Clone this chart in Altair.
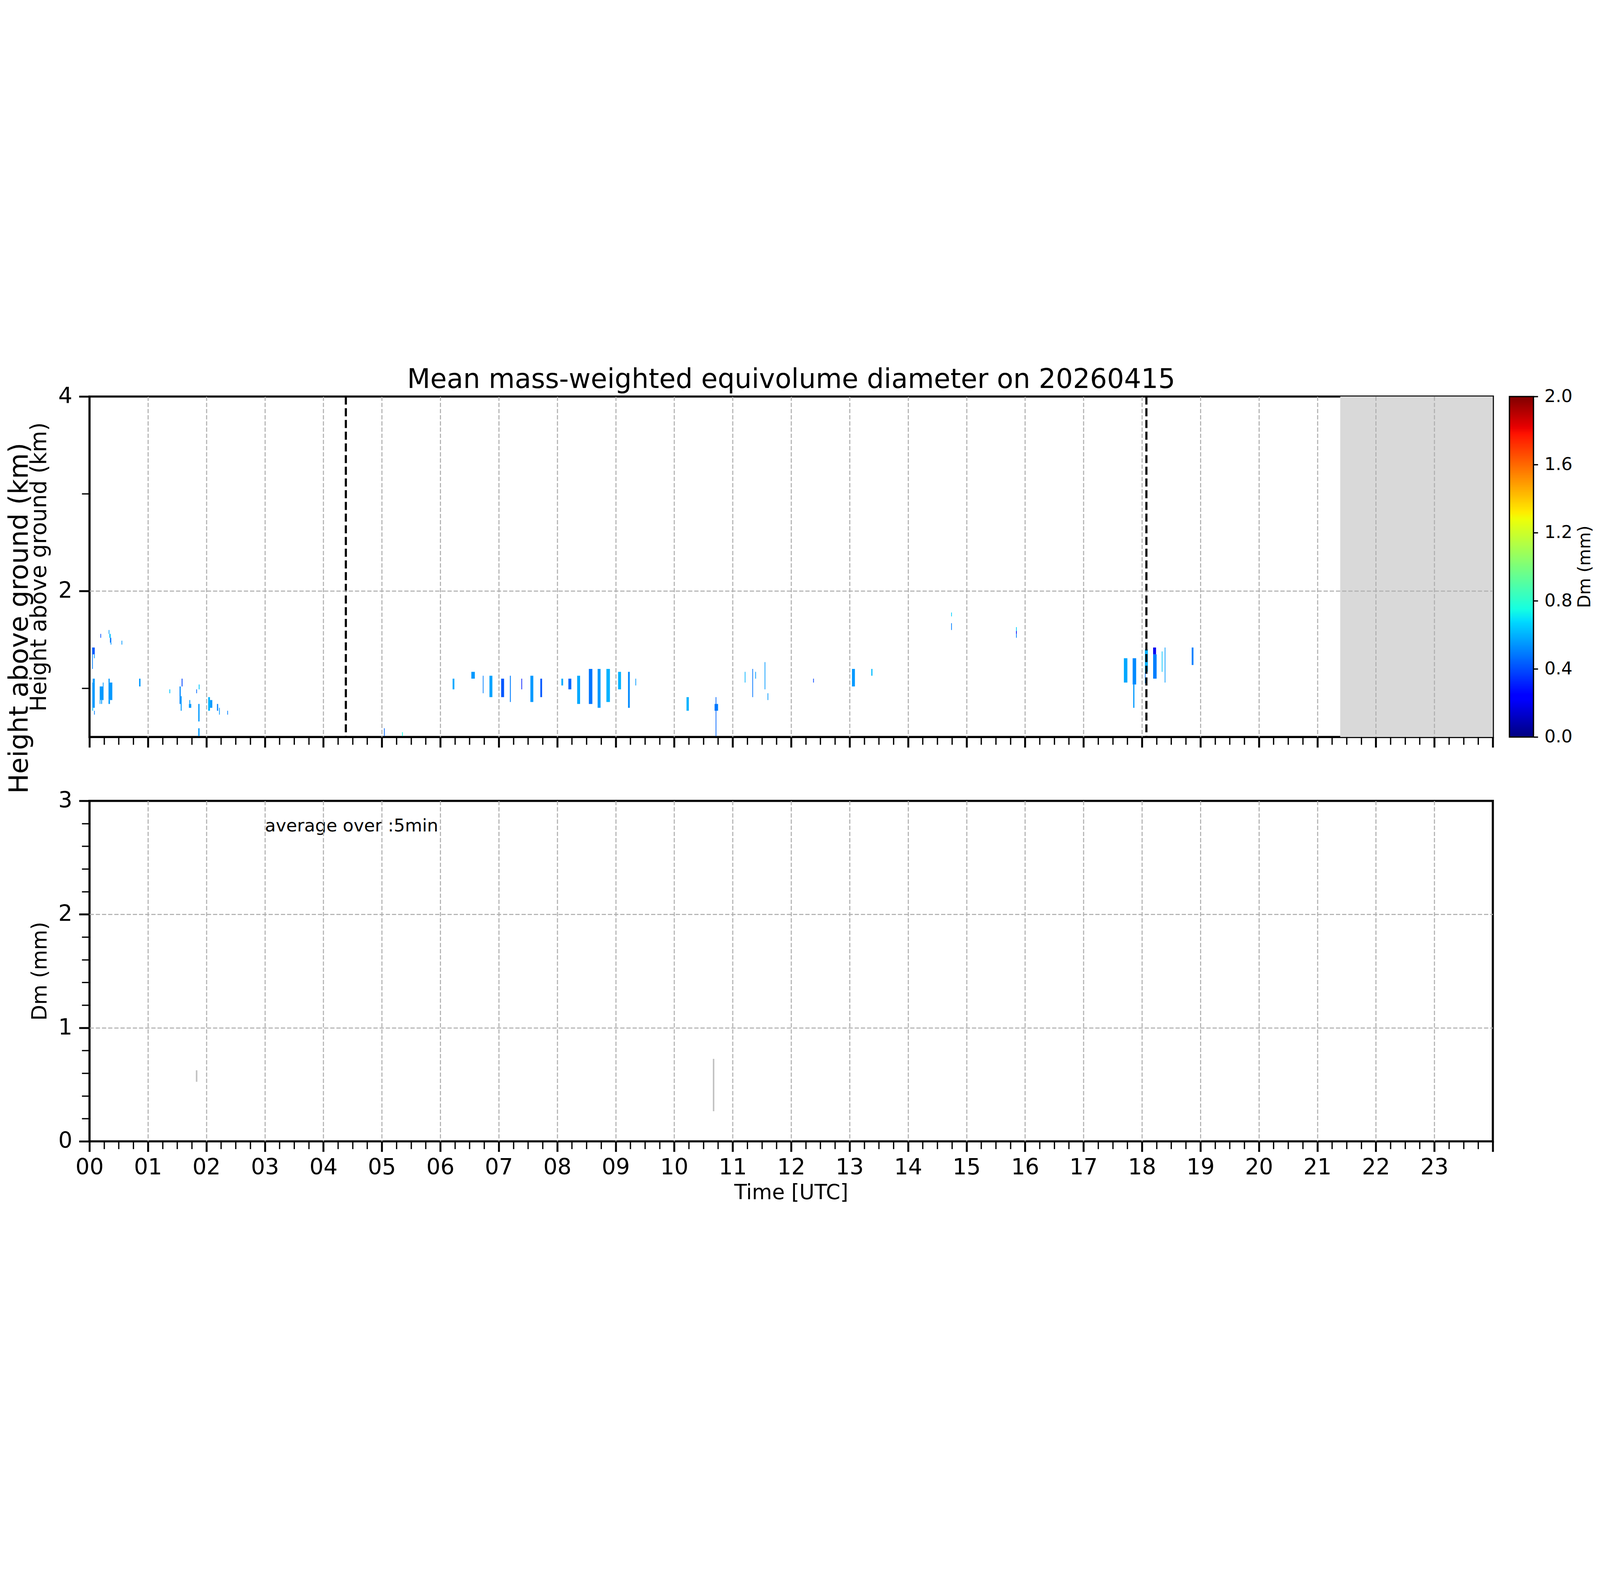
import altair as alt
import pandas as pd

FONT = "DejaVu Sans"

# ---------------- top panel: Dm cells (time in hours UTC, height in km, Dm in mm)
cell_t0 = [0.045, 0.050, 0.078, 0.048, 0.055, 0.048, 0.078, 0.175, 0.175, 0.200,
           0.228, 0.186, 0.325, 0.325, 0.325, 0.328, 0.340, 0.350, 0.362, 0.548,
           0.848, 1.366, 1.540, 1.560, 1.576, 1.700, 1.708, 1.826, 1.860, 1.868,
           1.860, 2.030, 2.060, 2.180, 2.216, 2.356, 5.036, 5.346, 6.21, 6.53,
           6.726, 6.84, 7.04, 7.19, 7.386, 7.54, 7.71, 8.07, 8.19, 8.34,
           8.54, 8.69, 8.84, 9.04, 9.21, 9.336, 10.21, 10.69, 10.708, 11.206,
           11.336, 11.386, 11.546, 11.596, 12.376, 13.04, 13.37, 14.736, 14.736, 15.846,
           15.846, 15.846, 17.69, 17.84, 17.85, 18.05, 18.05, 18.19, 18.19, 18.338,
           18.388, 18.85]
cell_t1 = [0.057, 0.090, 0.090, 0.090, 0.090, 0.062, 0.090, 0.240, 0.187, 0.215,
           0.240, 0.198, 0.390, 0.345, 0.350, 0.340, 0.362, 0.372, 0.374, 0.560,
           0.872, 1.380, 1.560, 1.576, 1.590, 1.740, 1.722, 1.838, 1.882, 1.882,
           1.882, 2.060, 2.100, 2.200, 2.228, 2.368, 5.048, 5.358, 6.24, 6.59,
           6.738, 6.89, 7.09, 7.205, 7.398, 7.59, 7.74, 8.10, 8.24, 8.39,
           8.60, 8.74, 8.90, 9.09, 9.24, 9.348, 10.25, 10.75, 10.720, 11.218,
           11.348, 11.398, 11.558, 11.608, 12.388, 13.09, 13.39, 14.748, 14.748, 15.858,
           15.858, 15.858, 17.75, 17.90, 17.87, 18.10, 18.062, 18.25, 18.24, 18.350,
           18.400, 18.88]
cell_h0 = [1.20, 1.35, 1.31, 0.80, 1.06, 0.77, 0.73, 0.88, 0.84, 0.84,
           1.02, 1.52, 0.88, 1.06, 0.84, 1.56, 1.52, 1.47, 1.45, 1.45,
           1.02, 0.95, 0.84, 0.77, 1.02, 0.80, 0.84, 0.95, 0.66, 0.99,
           0.51, 0.77, 0.80, 0.77, 0.73, 0.73, 0.51, 0.51, 0.99, 1.10,
           0.95, 0.91, 0.91, 0.86, 0.99, 0.86, 0.91, 1.03, 0.99, 0.84,
           0.84, 0.80, 0.86, 0.99, 0.80, 1.03, 0.77, 0.77, 0.51, 1.06,
           0.91, 1.10, 0.99, 0.88, 1.06, 1.02, 1.13, 1.74, 1.60, 1.59,
           1.56, 1.52, 1.06, 1.04, 0.80, 1.17, 1.05, 1.10, 1.35, 1.17,
           1.06, 1.24]
cell_h1 = [1.42, 1.42, 1.35, 1.06, 1.10, 0.80, 0.77, 1.02, 0.88, 0.88,
           1.06, 1.56, 1.06, 1.10, 0.88, 1.60, 1.56, 1.52, 1.47, 1.49,
           1.10, 0.99, 1.02, 0.92, 1.10, 0.84, 0.88, 0.99, 0.84, 1.04,
           0.59, 0.91, 0.88, 0.84, 0.80, 0.77, 0.59, 0.55, 1.10, 1.17,
           1.13, 1.13, 1.10, 1.13, 1.10, 1.13, 1.10, 1.10, 1.10, 1.13,
           1.20, 1.20, 1.20, 1.17, 1.17, 1.10, 0.91, 0.84, 0.91, 1.17,
           1.20, 1.17, 1.27, 0.95, 1.10, 1.20, 1.20, 1.78, 1.67, 1.63,
           1.59, 1.56, 1.31, 1.31, 1.04, 1.40, 1.17, 1.35, 1.42, 1.38,
           1.42, 1.42]
cell_dm = [0.50, 0.42, 0.55, 0.55, 0.55, 0.63, 0.50, 0.55, 0.55, 0.55,
           0.55, 0.40, 0.55, 0.55, 0.55, 0.55, 0.63, 0.48, 0.55, 0.55,
           0.55, 0.64, 0.52, 0.55, 0.38, 0.55, 0.55, 0.45, 0.55, 0.64,
           0.55, 0.60, 0.55, 0.50, 0.55, 0.50, 0.45, 0.74, 0.58, 0.55,
           0.50, 0.57, 0.42, 0.50, 0.30, 0.55, 0.42, 0.58, 0.45, 0.58,
           0.48, 0.55, 0.60, 0.60, 0.52, 0.55, 0.60, 0.50, 0.45, 0.60,
           0.48, 0.55, 0.55, 0.55, 0.38, 0.55, 0.62, 0.66, 0.50, 0.66,
           0.20, 0.50, 0.58, 0.52, 0.55, 0.60, 0.50, 0.50, 0.20, 0.64,
           0.55, 0.50]

# shaded (no data) period and the dashed marker times
shade_t0 = [21.39]
shade_t1 = [24.0]
shade_h0 = [0.5]
shade_h1 = [4.0]
marker_t = [4.384, 18.075]

# ---------------- bottom panel: 5-min averaged Dm (min/max of each visible stroke)
ts_t = [1.832, 10.673]
ts_lo = [0.525, 0.266]
ts_hi = [0.626, 0.727]
note_t = [3.0]
note_dm = [2.73]
note_text = ["average over :5min"]

# ---------------- texts
title_text = "Mean mass-weighted equivolume diameter on 20260415"
big_text = ["Height above ground (km)"]
cb_title_text = ["Dm (mm)"]

# ---------------- jet colour map, Dm 0..2 mm
jet_domain = [0.0, 0.22, 0.25, 0.68, 0.75, 1.28, 1.32, 1.78, 1.82, 2.0]
jet_range = ["#00007f", "#0000ff", "#0000ff", "#00dbff", "#15ffe2",
             "#eeff08", "#ffec00", "#ff1300", "#e80000", "#7f0000"]
cbar_ticks = [0.0, 0.4, 0.8, 1.2, 1.6, 2.0]
cbar_lo = [i * 0.01 for i in range(200)]
cbar_hi = [min(v + 0.012, 2.0) for v in cbar_lo]
cbar_mid = [v + 0.005 for v in cbar_lo]

# ---------------- layout constants (pixels)
W, H = 6596, 1600
CB_X0, CB_X1 = W + 78, W + 191

time_ticks = [i / 4 for i in range(97)]
height_ticks = [1, 2, 3, 4]
dm_ticks = [round(i * 0.2, 1) for i in range(16)]

MAJ_T = "abs(datum.value - round(datum.value)) < 1e-6"
GRID_T = MAJ_T + " && datum.value > 0.5 && datum.value < 23.5"
MAJ_H = "datum.value % 2 === 0"
GRID_H = "datum.value === 2"
GRID_D = MAJ_T + " && datum.value > 0.5 && datum.value < 2.5"

x_scale = alt.Scale(domain=[0, 24], nice=False, zero=False)
h_scale = alt.Scale(domain=[0.5, 4.0], nice=False, zero=False)
dm_scale = alt.Scale(domain=[0, 3], nice=False, zero=False)
cb_scale = alt.Scale(domain=[0, 2], nice=False, zero=False)
color_scale = alt.Scale(type="linear", domain=jet_domain, range=jet_range,
                        interpolate="rgb", clamp=True)

GRID = dict(grid=True, gridColor="#b0b0b0", gridDash=[20, 9], gridWidth=5)


def cond(test, a, b):
    return {"condition": {"test": test, "value": a}, "value": b}


def time_axis(labels):
    kw = dict(values=time_ticks, domain=False, zindex=1, tickColor="black",
              tickSize=cond(MAJ_T, 49, 36), tickWidth=cond(MAJ_T, 9, 6),
              gridOpacity=cond(GRID_T, 1, 0),
              labelFlush=False, labelOverlap=False, **GRID)
    if labels:
        kw.update(labels=True,
                  labelExpr="datum.value % 1 === 0 && datum.value < 24 ? "
                            "(datum.value < 10 ? '0' + datum.value : '' + datum.value) : ''",
                  labelFont=FONT, labelFontSize=104, labelPadding=24, labelColor="black",
                  title="Time [UTC]", titleFont=FONT, titleFontSize=97,
                  titleFontWeight="normal", titlePadding=18, titleColor="black")
    else:
        kw.update(labels=False, title="")
    return alt.Axis(**kw)


height_axis = alt.Axis(
    values=height_ticks, domain=False, zindex=1, tickColor="black",
    tickSize=cond(MAJ_H, 49, 36), tickWidth=cond(MAJ_H, 9, 6),
    gridOpacity=cond(GRID_H, 1, 0),
    labelExpr="datum.value % 2 === 0 ? '' + datum.value : ''",
    labelFont=FONT, labelFontSize=104, labelPadding=32, labelColor="black",
    labelFlush=False, labelOverlap=False,
    title="Height above ground (km)", titleFont=FONT, titleFontSize=103,
    titleFontWeight="normal", titlePadding=35, titleColor="black", **GRID)

dm_axis = alt.Axis(
    values=dm_ticks, domain=False, zindex=1, tickColor="black",
    tickSize=cond(MAJ_T, 49, 36), tickWidth=cond(MAJ_T, 9, 6),
    gridOpacity=cond(GRID_D, 1, 0),
    labelExpr="abs(datum.value - round(datum.value)) < 1e-6 ? '' + round(datum.value) : ''",
    labelFont=FONT, labelFontSize=104, labelPadding=32, labelColor="black",
    labelFlush=False, labelOverlap=False,
    title="Dm (mm)", titleFont=FONT, titleFontSize=97,
    titleFontWeight="normal", titlePadding=35, titleColor="black", **GRID)

cb_axis = alt.Axis(
    orient="right", offset=CB_X1 - W, values=cbar_ticks, format=".1f",
    domain=False, grid=False, tickColor="black", tickSize=21, tickWidth=6,
    labelFont=FONT, labelFontSize=83, labelPadding=30, labelColor="black",
    labelFlush=False, labelOverlap=False, title="")

# ---------------- data frames
cells = pd.DataFrame({"t0": cell_t0, "t1": cell_t1, "h0": cell_h0, "h1": cell_h1, "dm": cell_dm})
shade = pd.DataFrame({"t0": shade_t0, "t1": shade_t1, "h0": shade_h0, "h1": shade_h1})
markers = pd.DataFrame({"t0": marker_t})
cbar = pd.DataFrame({"lo": cbar_lo, "hi": cbar_hi, "mid": cbar_mid})
cbar_box = pd.DataFrame({"lo": [0.0], "hi": [2.0]})
ts = pd.DataFrame({"t0": ts_t, "lo": ts_lo, "hi": ts_hi})
note = pd.DataFrame({"t0": note_t, "lo": note_dm, "label": note_text})

top_axis = time_axis(False)

shade_layer = alt.Chart(shade).mark_rect(color="#d9d9d9").encode(
    x=alt.X("t0:Q", scale=x_scale, axis=top_axis), x2="t1",
    y=alt.Y("h0:Q", scale=h_scale, axis=None), y2="h1")

cell_layer = alt.Chart(cells).mark_rect().encode(
    x=alt.X("t0:Q", scale=x_scale, axis=top_axis), x2="t1",
    y=alt.Y("h0:Q", scale=h_scale, axis=height_axis), y2="h1",
    color=alt.Color("dm:Q", scale=color_scale, legend=None))

marker_layer = alt.Chart(markers).mark_rule(
    color="black", strokeWidth=10, strokeDash=[38, 17]).encode(
    x=alt.X("t0:Q", scale=x_scale, axis=top_axis))

big_label = alt.Chart(pd.DataFrame({"label": big_text})).mark_text(
    angle=270, align="center", baseline="alphabetic", font=FONT, fontSize=125,
    color="black").encode(x=alt.value(-290), y=alt.value(1042), text="label:N")

cb_title = alt.Chart(pd.DataFrame({"label": cb_title_text})).mark_text(
    angle=270, align="center", baseline="middle", font=FONT, fontSize=81,
    color="black").encode(x=alt.value(7030), y=alt.value(H / 2), text="label:N")

cbar_layer = alt.Chart(cbar).mark_rect().encode(
    x=alt.value(CB_X0), x2=alt.value(CB_X1),
    y=alt.Y("lo:Q", scale=cb_scale, axis=cb_axis), y2="hi",
    color=alt.Color("mid:Q", scale=color_scale, legend=None))

cbar_border = alt.Chart(cbar_box).mark_rect(
    fillOpacity=0, stroke="black", strokeWidth=6).encode(
    x=alt.value(CB_X0), x2=alt.value(CB_X1),
    y=alt.Y("lo:Q", scale=cb_scale, axis=None), y2="hi")

top = alt.layer(shade_layer, cell_layer, marker_layer, big_label,
                cb_title, cbar_layer, cbar_border).resolve_scale(
    y="independent").properties(
    width=W, height=H,
    title=alt.TitleParams(text=title_text, font=FONT, fontSize=126, fontWeight="normal",
                          color="black", anchor="middle", frame="group", offset=-38))

bottom_axis = time_axis(True)
ts_layer = alt.Chart(ts).mark_rule(color="#c0c0c0", strokeWidth=7).encode(
    x=alt.X("t0:Q", scale=x_scale, axis=bottom_axis),
    y=alt.Y("lo:Q", scale=dm_scale, axis=dm_axis), y2="hi")
note_layer = alt.Chart(note).mark_text(
    align="left", baseline="alphabetic", font=FONT, fontSize=83, color="black").encode(
    x=alt.X("t0:Q", scale=x_scale, axis=bottom_axis),
    y=alt.Y("lo:Q", scale=dm_scale, axis=dm_axis), text="label:N")

bottom = alt.layer(ts_layer, note_layer).properties(width=W, height=H)

chart = alt.vconcat(top, bottom, spacing=300, bounds="flush").properties(
    padding={"left": 10, "top": 36, "right": 10, "bottom": 10},
    background="white").configure_view(stroke="black", strokeWidth=10)

chart.save("out.html", embed_options={"renderer": "svg", "actions": False})
